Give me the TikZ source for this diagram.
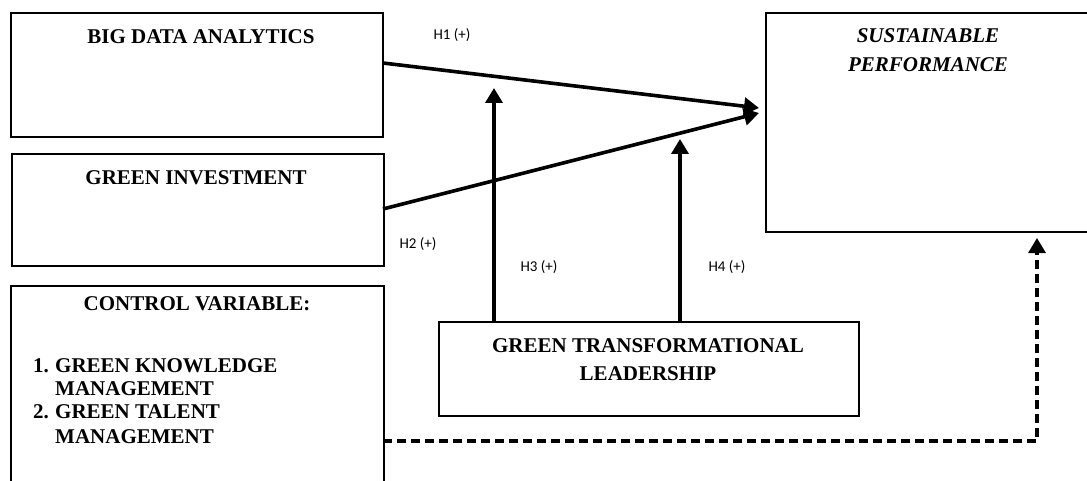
\documentclass[tikz,border=0pt]{standalone}
\usepackage{fontspec}
\setmainfont{Liberation Serif}
\newfontfamily\hfont{Carlito}
\usetikzlibrary{arrows.meta}
\begin{document}
\begin{tikzpicture}[x=1pt,y=-1pt,
  boxshape/.style={draw,line width=2pt},
  title/.style={anchor=base,inner sep=0pt,font=\fontsize{21}{25}\selectfont\bfseries},
  listitem/.style={anchor=base west,inner sep=0pt,font=\fontsize{21}{25}\selectfont\bfseries},
  hyp/.style={inner sep=0pt,font=\hfont\fontsize{15}{18}\selectfont},
  solidarrow/.style={line width=3.6pt,-{Triangle[length=15pt,width=17pt]}},
  dasharrow/.style={line width=3.2pt,dash pattern=on 9pt off 5pt,-{Triangle[length=15pt,width=17pt]}}]
\useasboundingbox[fill=white] (0,0) rectangle (1087,481);
% boxes
\node[boxshape,inner sep=0pt,anchor=north west,minimum width=372pt,minimum height=124pt] (bda) at (10,12) {};
\node[boxshape,inner sep=0pt,anchor=north west,minimum width=372pt,minimum height=112pt] (gi) at (11,153) {};
\node[boxshape,inner sep=0pt,anchor=north west,minimum width=373pt,minimum height=230pt] (cv) at (10,285) {};
\node[boxshape,inner sep=0pt,anchor=north west,minimum width=420pt,minimum height=94pt] (gtl) at (438,321) {};
\node[boxshape,inner sep=0pt,anchor=north west,minimum width=340pt,minimum height=219pt] (sp) at (765,12) {};
% texts
\node[title] (bdat) at (201,44) {BIG DATA ANALYTICS};
\node[title] (git) at (196,185) {GREEN INVESTMENT};
\node[title] (cvt) at (197,310) {CONTROL VARIABLE:};
\node[listitem] (l1n) at (33,372) {1.};
\node[listitem] (l1) at (55,372) {GREEN KNOWLEDGE};
\node[listitem] (l1b) at (55,395) {MANAGEMENT};
\node[listitem] (l2n) at (33,418) {2.};
\node[listitem] (l2) at (55,418) {GREEN TALENT};
\node[listitem] (l2b) at (55,443) {MANAGEMENT};
\node[title] (gtlt1) at (648,352) {GREEN TRANSFORMATIONAL};
\node[title] (gtlt2) at (648,380) {LEADERSHIP};
\node[title,font=\fontsize{21}{25}\selectfont\bfseries\itshape] (spt1) at (928,43) {SUSTAINABLE};
\node[title,font=\fontsize{21}{25}\selectfont\bfseries\itshape] (spt2) at (928,72) {PERFORMANCE};
% hypothesis labels
\node[hyp] (h1) at (452,35) {H1 (+)};
\node[hyp] (h2) at (418,244) {H2 (+)};
\node[hyp] (h3) at (539,267) {H3 (+)};
\node[hyp] (h4) at (727,267) {H4 (+)};
% connector endpoints
\coordinate (s1) at (383,63);
\coordinate (t1) at (759,108);
\coordinate (s2) at (383,209);
\coordinate (t2) at (759,113);
\coordinate (s3) at (494,321);
\coordinate (t3) at (494,88);
\coordinate (s4) at (680,321);
\coordinate (t4) at (680,139);
\coordinate (s5) at (383,441);
\coordinate (c5) at (1037,441);
\coordinate (t5) at (1037,238);
% connectors
\draw[solidarrow] (s1) -- (t1);
\draw[solidarrow] (s2) -- (t2);
\draw[solidarrow] (s3) -- (t3);
\draw[solidarrow] (s4) -- (t4);
\draw[dasharrow] (s5) -- (c5) -- (t5);
\end{tikzpicture}
\end{document}
